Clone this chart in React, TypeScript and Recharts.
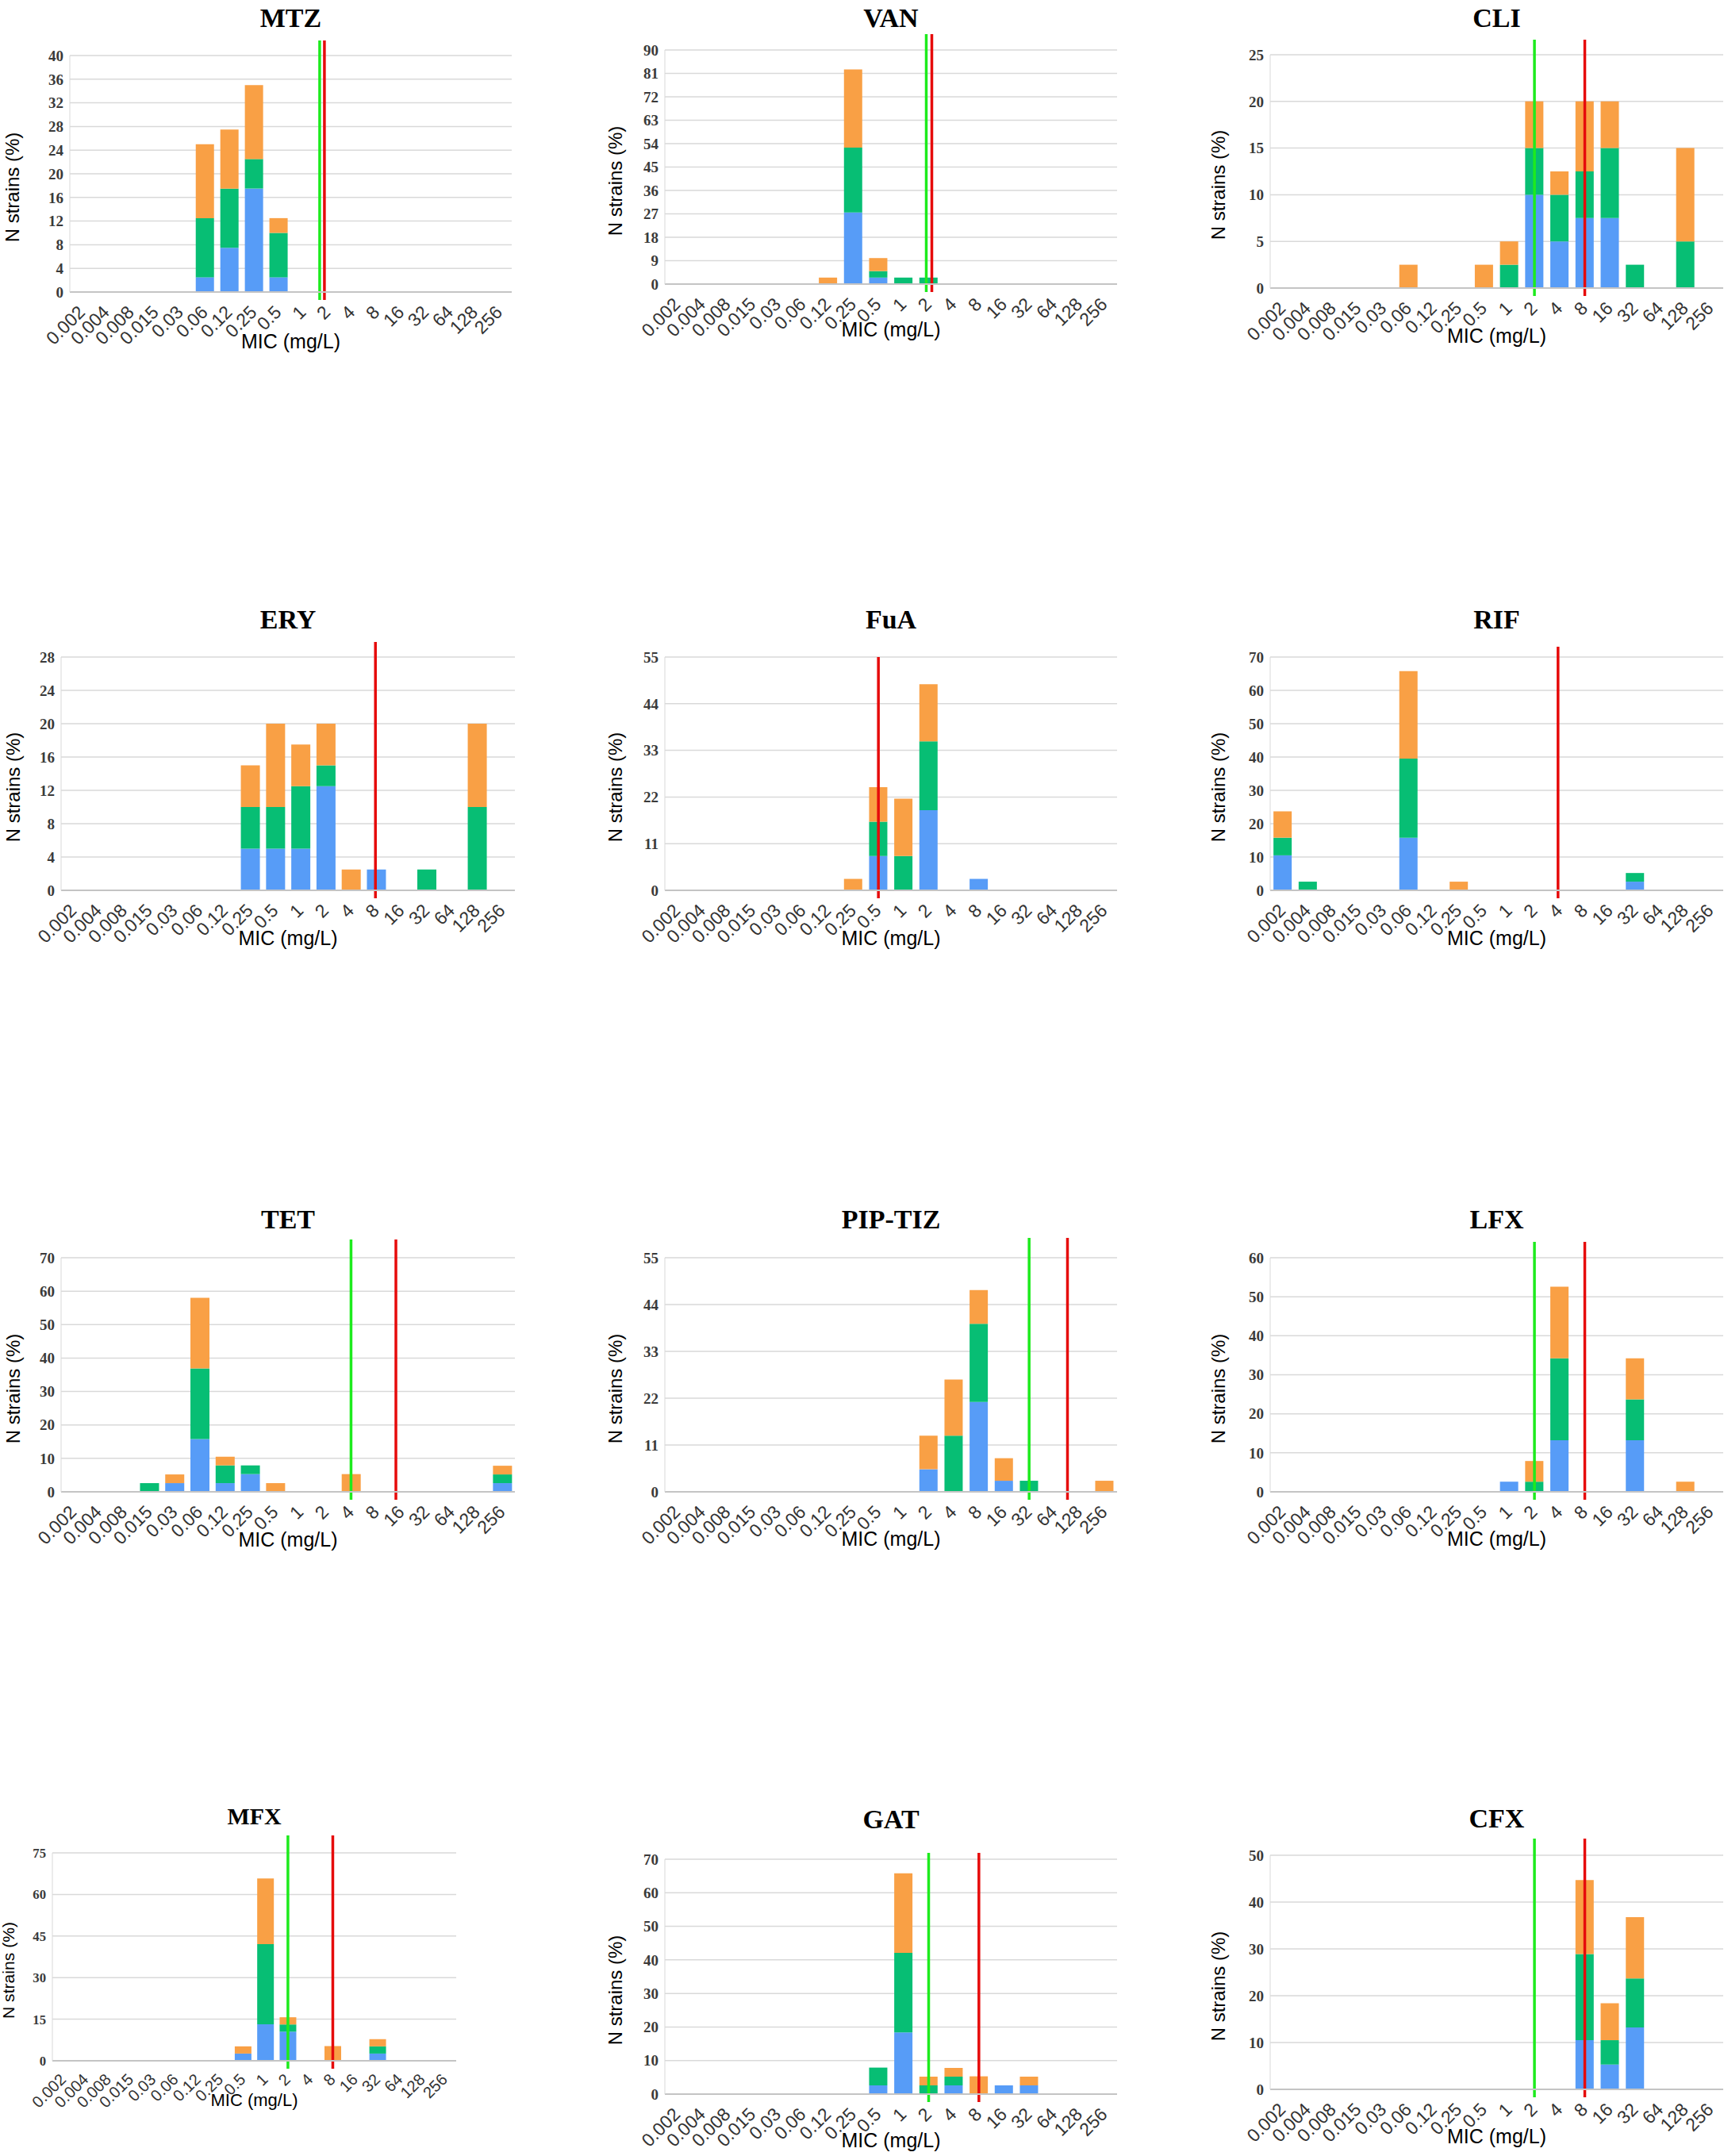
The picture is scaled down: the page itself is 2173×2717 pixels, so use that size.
import React from 'react';
import { BarChart, Bar, XAxis, YAxis, CartesianGrid, ReferenceLine } from 'recharts';

// MIC dilution steps (mg/L)
const MIC = ['0.002', '0.004', '0.008', '0.015', '0.03', '0.06', '0.12', '0.25', '0.5', '1', '2', '4', '8', '16', '32', '64', '128', '256'];

// % of strains per MIC, one array per stacked colour (blue bottom, green middle, orange top)
const MTZ_BLUE = [0, 0, 0, 0, 0, 2.5, 7.5, 17.5, 2.5, 0, 0, 0, 0, 0, 0, 0, 0, 0];
const MTZ_GREEN = [0, 0, 0, 0, 0, 10, 10, 5, 7.5, 0, 0, 0, 0, 0, 0, 0, 0, 0];
const MTZ_ORANGE = [0, 0, 0, 0, 0, 12.5, 10, 12.5, 2.5, 0, 0, 0, 0, 0, 0, 0, 0, 0];
const MTZ_TICKS = [0, 4, 8, 12, 16, 20, 24, 28, 32, 36, 40];

const VAN_BLUE = [0, 0, 0, 0, 0, 0, 0, 27.5, 2.5, 0, 0, 0, 0, 0, 0, 0, 0, 0];
const VAN_GREEN = [0, 0, 0, 0, 0, 0, 0, 25, 2.5, 2.5, 2.5, 0, 0, 0, 0, 0, 0, 0];
const VAN_ORANGE = [0, 0, 0, 0, 0, 0, 2.5, 30, 5, 0, 0, 0, 0, 0, 0, 0, 0, 0];
const VAN_TICKS = [0, 9, 18, 27, 36, 45, 54, 63, 72, 81, 90];

const CLI_BLUE = [0, 0, 0, 0, 0, 0, 0, 0, 0, 0, 10, 5, 7.5, 7.5, 0, 0, 0, 0];
const CLI_GREEN = [0, 0, 0, 0, 0, 0, 0, 0, 0, 2.5, 5, 5, 5, 7.5, 2.5, 0, 5, 0];
const CLI_ORANGE = [0, 0, 0, 0, 0, 2.5, 0, 0, 2.5, 2.5, 5, 2.5, 7.5, 5, 0, 0, 10, 0];
const CLI_TICKS = [0, 5, 10, 15, 20, 25];

const ERY_BLUE = [0, 0, 0, 0, 0, 0, 0, 5, 5, 5, 12.5, 0, 2.5, 0, 0, 0, 0, 0];
const ERY_GREEN = [0, 0, 0, 0, 0, 0, 0, 5, 5, 7.5, 2.5, 0, 0, 0, 2.5, 0, 10, 0];
const ERY_ORANGE = [0, 0, 0, 0, 0, 0, 0, 5, 10, 5, 5, 2.5, 0, 0, 0, 0, 10, 0];
const ERY_TICKS = [0, 4, 8, 12, 16, 20, 24, 28];

const FUA_BLUE = [0, 0, 0, 0, 0, 0, 0, 0, 8.1, 0, 18.9, 0, 2.7, 0, 0, 0, 0, 0];
const FUA_GREEN = [0, 0, 0, 0, 0, 0, 0, 0, 8.1, 8.1, 16.2, 0, 0, 0, 0, 0, 0, 0];
const FUA_ORANGE = [0, 0, 0, 0, 0, 0, 0, 2.7, 8.1, 13.5, 13.5, 0, 0, 0, 0, 0, 0, 0];
const FUA_TICKS = [0, 11, 22, 33, 44, 55];

const RIF_BLUE = [10.5, 0, 0, 0, 0, 15.8, 0, 0, 0, 0, 0, 0, 0, 0, 2.6, 0, 0, 0];
const RIF_GREEN = [5.3, 2.6, 0, 0, 0, 23.7, 0, 0, 0, 0, 0, 0, 0, 0, 2.6, 0, 0, 0];
const RIF_ORANGE = [7.9, 0, 0, 0, 0, 26.3, 0, 2.6, 0, 0, 0, 0, 0, 0, 0, 0, 0, 0];
const RIF_TICKS = [0, 10, 20, 30, 40, 50, 60, 70];

const TET_BLUE = [0, 0, 0, 0, 2.6, 15.8, 2.6, 5.3, 0, 0, 0, 0, 0, 0, 0, 0, 0, 2.6];
const TET_GREEN = [0, 0, 0, 2.6, 0, 21.1, 5.3, 2.6, 0, 0, 0, 0, 0, 0, 0, 0, 0, 2.6];
const TET_ORANGE = [0, 0, 0, 0, 2.6, 21.1, 2.6, 0, 2.6, 0, 0, 5.3, 0, 0, 0, 0, 0, 2.6];
const TET_TICKS = [0, 10, 20, 30, 40, 50, 60, 70];

const PIP_BLUE = [0, 0, 0, 0, 0, 0, 0, 0, 0, 0, 5.3, 0, 21.1, 2.6, 0, 0, 0, 0];
const PIP_GREEN = [0, 0, 0, 0, 0, 0, 0, 0, 0, 0, 0, 13.2, 18.4, 0, 2.6, 0, 0, 0];
const PIP_ORANGE = [0, 0, 0, 0, 0, 0, 0, 0, 0, 0, 7.9, 13.2, 7.9, 5.3, 0, 0, 0, 2.6];
const PIP_TICKS = [0, 11, 22, 33, 44, 55];

const LFX_BLUE = [0, 0, 0, 0, 0, 0, 0, 0, 0, 2.6, 0, 13.2, 0, 0, 13.2, 0, 0, 0];
const LFX_GREEN = [0, 0, 0, 0, 0, 0, 0, 0, 0, 0, 2.6, 21.0, 0, 0, 10.5, 0, 0, 0];
const LFX_ORANGE = [0, 0, 0, 0, 0, 0, 0, 0, 0, 0, 5.3, 18.4, 0, 0, 10.5, 0, 2.6, 0];
const LFX_TICKS = [0, 10, 20, 30, 40, 50, 60];

const MFX_BLUE = [0, 0, 0, 0, 0, 0, 0, 0, 2.6, 13.2, 10.5, 0, 0, 0, 2.6, 0, 0, 0];
const MFX_GREEN = [0, 0, 0, 0, 0, 0, 0, 0, 0, 28.9, 2.6, 0, 0, 0, 2.6, 0, 0, 0];
const MFX_ORANGE = [0, 0, 0, 0, 0, 0, 0, 0, 2.6, 23.7, 2.6, 0, 5.3, 0, 2.6, 0, 0, 0];
const MFX_TICKS = [0, 15, 30, 45, 60, 75];

const GAT_BLUE = [0, 0, 0, 0, 0, 0, 0, 0, 2.6, 18.4, 0, 2.6, 0, 2.6, 2.6, 0, 0, 0];
const GAT_GREEN = [0, 0, 0, 0, 0, 0, 0, 0, 5.3, 23.7, 2.6, 2.6, 0, 0, 0, 0, 0, 0];
const GAT_ORANGE = [0, 0, 0, 0, 0, 0, 0, 0, 0, 23.7, 2.6, 2.6, 5.3, 0, 2.6, 0, 0, 0];
const GAT_TICKS = [0, 10, 20, 30, 40, 50, 60, 70];

const CFX_BLUE = [0, 0, 0, 0, 0, 0, 0, 0, 0, 0, 0, 0, 10.5, 5.3, 13.2, 0, 0, 0];
const CFX_GREEN = [0, 0, 0, 0, 0, 0, 0, 0, 0, 0, 0, 0, 18.4, 5.2, 10.5, 0, 0, 0];
const CFX_ORANGE = [0, 0, 0, 0, 0, 0, 0, 0, 0, 0, 0, 0, 15.8, 7.9, 13.1, 0, 0, 0];
const CFX_TICKS = [0, 10, 20, 30, 40, 50];

// breakpoints (green = S, red = R), as MIC categories
const PANELS = [
  { title: 'MTZ', blue: MTZ_BLUE, green: MTZ_GREEN, orange: MTZ_ORANGE, ticks: MTZ_TICKS, s: '2', r: '2' },
  { title: 'VAN', blue: VAN_BLUE, green: VAN_GREEN, orange: VAN_ORANGE, ticks: VAN_TICKS, s: '2', r: '2' },
  { title: 'CLI', blue: CLI_BLUE, green: CLI_GREEN, orange: CLI_ORANGE, ticks: CLI_TICKS, s: '2', r: '8' },
  { title: 'ERY', blue: ERY_BLUE, green: ERY_GREEN, orange: ERY_ORANGE, ticks: ERY_TICKS, s: null, r: '8' },
  { title: 'FuA', blue: FUA_BLUE, green: FUA_GREEN, orange: FUA_ORANGE, ticks: FUA_TICKS, s: null, r: '0.5' },
  { title: 'RIF', blue: RIF_BLUE, green: RIF_GREEN, orange: RIF_ORANGE, ticks: RIF_TICKS, s: null, r: '4' },
  { title: 'TET', blue: TET_BLUE, green: TET_GREEN, orange: TET_ORANGE, ticks: TET_TICKS, s: '4', r: '16' },
  { title: 'PIP-TIZ', blue: PIP_BLUE, green: PIP_GREEN, orange: PIP_ORANGE, ticks: PIP_TICKS, s: '32', r: '128' },
  { title: 'LFX', blue: LFX_BLUE, green: LFX_GREEN, orange: LFX_ORANGE, ticks: LFX_TICKS, s: '2', r: '8' },
  { title: 'MFX', blue: MFX_BLUE, green: MFX_GREEN, orange: MFX_ORANGE, ticks: MFX_TICKS, s: '2', r: '8' },
  { title: 'GAT', blue: GAT_BLUE, green: GAT_GREEN, orange: GAT_ORANGE, ticks: GAT_TICKS, s: '2', r: '8' },
  { title: 'CFX', blue: CFX_BLUE, green: CFX_GREEN, orange: CFX_ORANGE, ticks: CFX_TICKS, s: '2', r: '8' },
];

// page layout of each plot area (px), label gaps, line overhang, nudges, font scale
const LAYOUT: Record<string, any> = {
  MTZ: { x0: 88, x1: 645, y0: 70, y1: 368, ty: 23, gap: 72, xlab: 62, over: 19, sdx: -10, rdx: -4, k: 1 },
  VAN: { x0: 838, x1: 1408, y0: 63, y1: 358, ty: 23, gap: 62, xlab: 57, over: 20, sdx: -3, rdx: 4, k: 1 },
  CLI: { x0: 1601, x1: 2172, y0: 69, y1: 363, ty: 23, gap: 65, xlab: 60, over: 19, sdx: 0, rdx: 0, k: 1 },
  ERY: { x0: 77, x1: 649, y0: 828, y1: 1122, ty: 781, gap: 60, xlab: 60, over: 19, sdx: 0, rdx: -1, k: 1 },
  FuA: { x0: 838, x1: 1408, y0: 828, y1: 1122, ty: 781, gap: 62, xlab: 60, over: 0, sdx: 0, rdx: 0, k: 1 },
  RIF: { x0: 1601, x1: 2172, y0: 828, y1: 1122, ty: 781, gap: 65, xlab: 60, over: 13, sdx: 0, rdx: -2, k: 1 },
  TET: { x0: 77, x1: 649, y0: 1585, y1: 1880, ty: 1537, gap: 60, xlab: 60, over: 23, sdx: 0, rdx: -7, k: 1 },
  'PIP-TIZ': { x0: 838, x1: 1408, y0: 1585, y1: 1880, ty: 1537, gap: 62, xlab: 59, over: 25, sdx: 0, rdx: -15, k: 1 },
  LFX: { x0: 1601, x1: 2172, y0: 1585, y1: 1880, ty: 1537, gap: 65, xlab: 59, over: 20, sdx: 0, rdx: 0, k: 1 },
  MFX: { x0: 66, x1: 575, y0: 2335, y1: 2597, ty: 2289, gap: 55, xlab: 50, over: 22, sdx: 0, rdx: 0, k: 0.88 },
  GAT: { x0: 838, x1: 1408, y0: 2343, y1: 2639, ty: 2293, gap: 62, xlab: 58, over: 8, sdx: 0, rdx: 0, k: 1 },
  CFX: { x0: 1601, x1: 2172, y0: 2338, y1: 2633, ty: 2292, gap: 65, xlab: 59, over: 21, sdx: 0, rdx: 0, k: 1 },
};

const BLUE = '#579CF7';
const GREEN = '#07BE74';
const ORANGE = '#F9A045';
const S_LINE = '#1DEB1D';
const R_LINE = '#E60B0B';

const SANS = '"Liberation Sans", Arial, sans-serif';
const SERIF = '"Liberation Serif", "Times New Roman", serif';

const ML = 100; // margin.left + y axis width
const MT = 30;
const XH = 80;

const micTick = (k: number) => (props: any) => {
  const { x, y, payload } = props;
  const ax = x + 5 * k;
  const ay = y + 19 * k;
  return (
    <text
      x={ax}
      y={ay}
      transform={`rotate(-45 ${ax} ${ay})`}
      textAnchor="end"
      fontFamily={SANS}
      fontSize={23 * k}
      fill="#333"
    >
      {payload.value}
    </text>
  );
};

const refShape = (color: string, over: number, dx: number) => (p: any) => (
  <line
    x1={p.x1 + dx}
    x2={p.x2 + dx}
    y1={Math.min(p.y1, p.y2) - over}
    y2={Math.max(p.y1, p.y2) + 10}
    stroke={color}
    strokeWidth={3.5}
  />
);

const Panel = ({ panel }: { panel: any }) => {
  const L = LAYOUT[panel.title];
  const { x0, x1, y0, y1, k } = L;
  const rows = MIC.map((mic, i) => ({
    mic,
    blue: panel.blue[i],
    green: panel.green[i],
    orange: panel.orange[i],
  }));
  const ticks = panel.ticks;
  const cx = (x0 + x1) / 2;

  return (
    <>
      <div
        style={{
          position: 'absolute',
          left: cx - 200,
          width: 400,
          top: L.ty - 22,
          height: 44,
          lineHeight: '44px',
          textAlign: 'center',
          fontFamily: SERIF,
          fontWeight: 700,
          fontSize: 34 * k,
          color: '#000',
        }}
      >
        {panel.title}
      </div>
      <div
        style={{
          position: 'absolute',
          left: x0 - L.gap - 160,
          top: (y0 + y1) / 2 + 17 - 15,
          width: 320,
          height: 30,
          lineHeight: '30px',
          textAlign: 'center',
          transform: 'rotate(-90deg)',
          fontFamily: SANS,
          fontSize: 24 * k,
          color: '#000',
        }}
      >
        N strains (%)
      </div>
      <div
        style={{
          position: 'absolute',
          left: cx - 150,
          width: 300,
          top: y1 + L.xlab - 16,
          height: 32,
          lineHeight: '32px',
          textAlign: 'center',
          fontFamily: SANS,
          fontSize: 25 * k,
          color: '#000',
        }}
      >
        MIC (mg/L)
      </div>
      <div style={{ position: 'absolute', left: x0 - ML, top: y0 - MT }}>
        <BarChart
          width={x1 - x0 + ML + 1}
          height={y1 - y0 + MT + XH}
          data={rows}
          margin={{ top: MT, right: 1, bottom: 0, left: ML - 60 }}
          barCategoryGap="13%"
        >
          <CartesianGrid vertical={false} stroke="#d9d9d9" strokeWidth={1.5} />
          <XAxis
            dataKey="mic"
            interval={0}
            tickLine={false}
            axisLine={{ stroke: '#c4c4c4', strokeWidth: 2 }}
            height={XH}
            tick={micTick(k)}
          />
          <YAxis
            width={60}
            domain={[0, ticks[ticks.length - 1]]}
            ticks={ticks}
            interval={0}
            tickLine={false}
            axisLine={{ stroke: '#d9d9d9' }}
            tick={{ fontFamily: SERIF, fontWeight: 700, fontSize: 19 * k, fill: '#3a3a3a' }}
          />
          <Bar dataKey="blue" stackId="a" fill={BLUE} isAnimationActive={false} />
          <Bar dataKey="green" stackId="a" fill={GREEN} isAnimationActive={false} />
          <Bar dataKey="orange" stackId="a" fill={ORANGE} isAnimationActive={false} />
          {panel.s && (
            <ReferenceLine x={panel.s} shape={refShape(S_LINE, L.over, L.sdx)} />
          )}
          {panel.r && (
            <ReferenceLine x={panel.r} shape={refShape(R_LINE, L.over, L.rdx)} />
          )}
        </BarChart>
      </div>
    </>
  );
};

export default function App() {
  return (
    <div style={{ position: 'absolute', left: 0, top: 0, width: 2173, height: 2717, overflow: 'hidden', background: '#fff' }}>
      <style>{'body{margin:0;overflow:hidden}'}</style>
      {PANELS.map((p) => (
        <Panel key={p.title} panel={p} />
      ))}
    </div>
  );
}
